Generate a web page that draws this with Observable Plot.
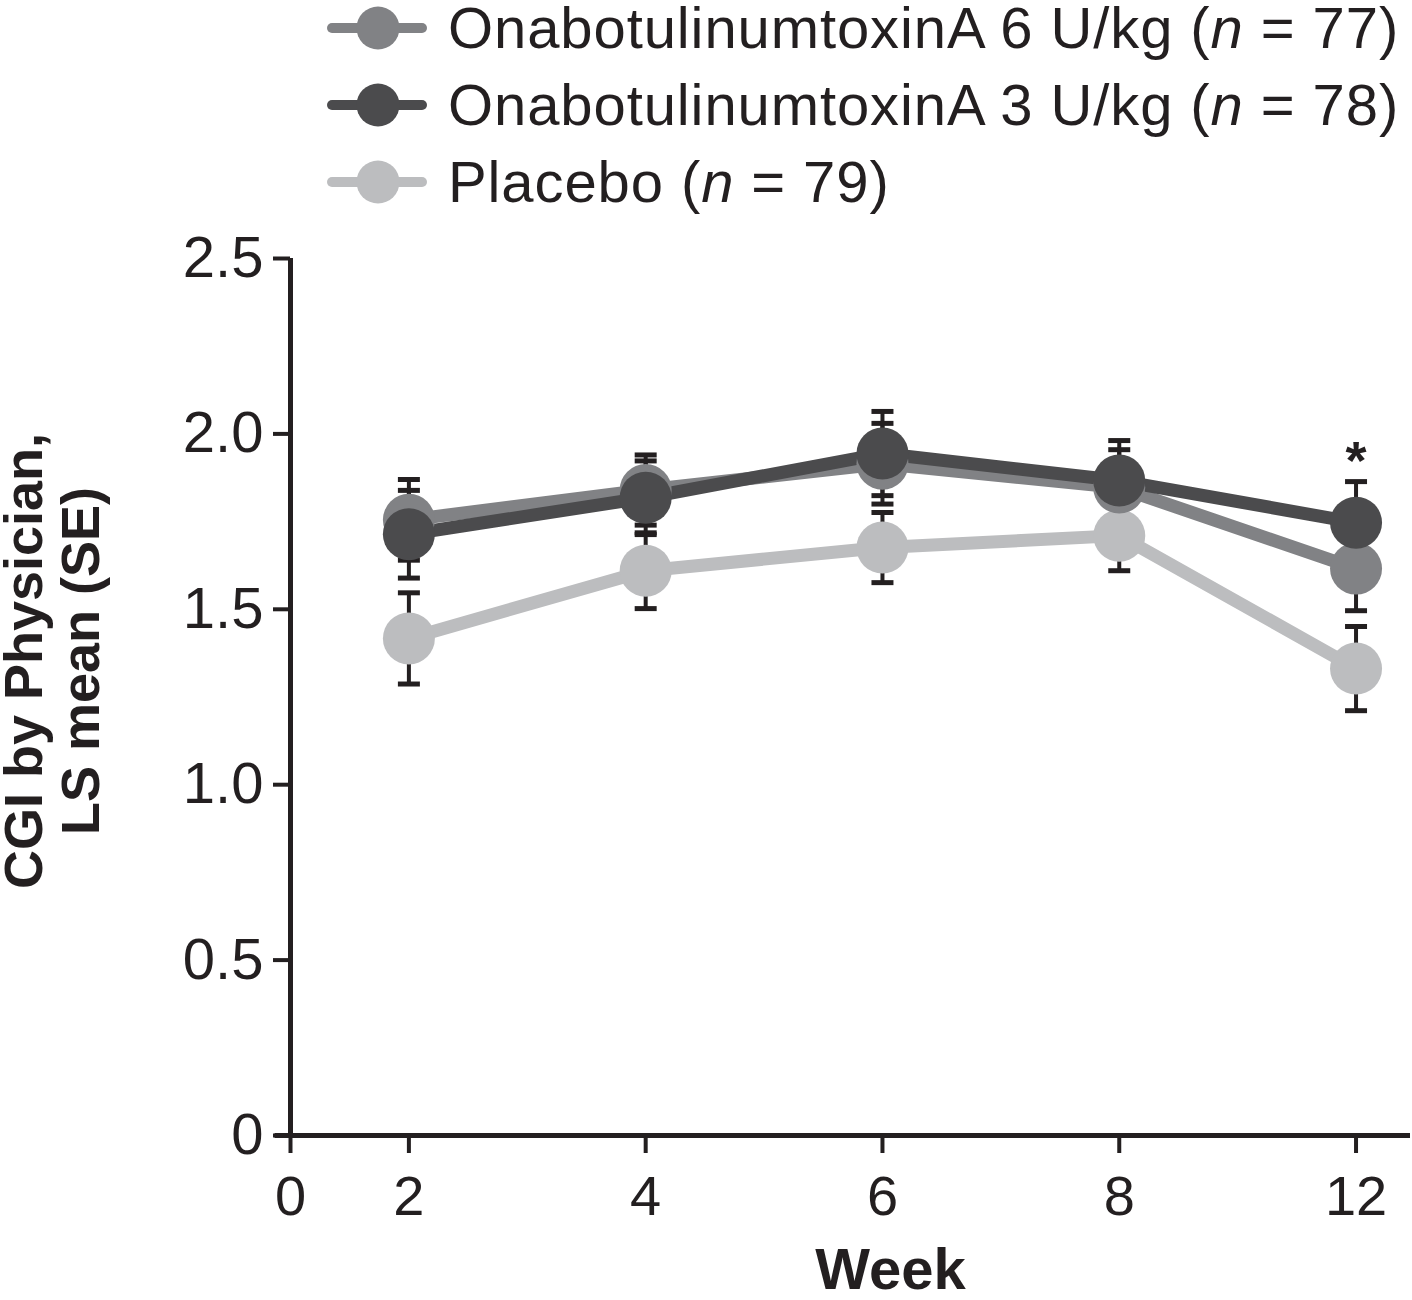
<!DOCTYPE html>
<html>
<head>
<meta charset="utf-8">
<script src="https://cdn.jsdelivr.net/npm/d3@7"></script>
<script src="https://cdn.jsdelivr.net/npm/@observablehq/plot@0.6"></script>
<style>
  html, body { margin: 0; padding: 0; background: #fff; }
  #wrap { width: 1412px; height: 1300px; position: relative; font-family: "Liberation Sans", Arial, sans-serif; color: #231f20; }
  #legend { position: relative; height: 220px; }
  .lrow { position: absolute; left: 327px; height: 56px; display: flex; align-items: center; white-space: nowrap; }
  .lrow span { font-size: 58px; line-height: 56px; margin-left: 21px; letter-spacing: 0.9px; }
</style>
</head>
<body>
<div id="wrap">
  <div id="legend"></div>
  <div id="chart"></div>
</div>
<script>
// ---- data ----
const weeks = [2, 4, 6, 8, 12];
const xTickLabels = ["0", "2", "4", "6", "8", "12"];
const yTicks = [0, 0.5, 1.0, 1.5, 2.0, 2.5];

const seriesNames = ["OnabotulinumtoxinA 6 U/kg", "OnabotulinumtoxinA 3 U/kg", "Placebo"];
const seriesN = [77, 78, 79];
const seriesColors = ["#818285", "#4b4b4d", "#bcbdbf"];

const dose6Mean = [1.755, 1.840, 1.915, 1.847, 1.616];
const dose6SE   = [0.115, 0.100, 0.115, 0.108, 0.120];
const dose3Mean = [1.714, 1.818, 1.944, 1.867, 1.747];
const dose3SE   = [0.125, 0.105, 0.120, 0.114, 0.117];
const placeboMean = [1.417, 1.610, 1.676, 1.710, 1.331];
const placeboSE   = [0.130, 0.108, 0.100, 0.100, 0.120];

const significant = [{series: "OnabotulinumtoxinA 3 U/kg", week: 12, label: "*"}];

// ---- build table ----
const seriesList = [
  {name: seriesNames[2], mean: placeboMean, se: placeboSE},
  {name: seriesNames[0], mean: dose6Mean, se: dose6SE},
  {name: seriesNames[1], mean: dose3Mean, se: dose3SE}
];
const rows = seriesList.flatMap(s => weeks.map((w, i) => ({
  series: s.name, week: w, slot: i + 1, value: s.mean[i], se: s.se[i]
})));
const slotOf = w => weeks.indexOf(w) + 1;
const xDomain = [0.5, 5.23];
const xTickSlots = [0.5, ...weeks.map(slotOf)];

// ---- legend ----
const legend = document.getElementById("legend");
seriesNames.forEach((name, i) => {
  const row = document.createElement("div");
  row.className = "lrow";
  row.style.top = (28 + 77 * i - 28) + "px";
  row.innerHTML =
    `<svg width="100" height="50" style="overflow:visible">
       <line x1="5" x2="95" y1="25" y2="25" stroke="${seriesColors[i]}" stroke-width="10" stroke-linecap="round"/>
       <circle cx="51" cy="25" r="21.5" fill="${seriesColors[i]}"/>
     </svg>
     <span>${name} (<i>n</i> = ${seriesN[i]})</span>`;
  legend.appendChild(row);
});

// ---- chart ----
const capSymbol = {
  draw(ctx, size) {
    const w = Math.sqrt(size / Math.PI);
    ctx.moveTo(-w, 0);
    ctx.lineTo(w, 0);
  }
};
const ink = "#231f20";

const chart = Plot.plot({
  width: 1412,
  height: 1080,
  marginLeft: 290,
  marginRight: 2,
  marginTop: 38,
  marginBottom: 165,
  style: {fontFamily: "'Liberation Sans', Arial, sans-serif", color: ink, background: "#fff", overflow: "visible"},
  x: {domain: xDomain},
  y: {domain: [0, 2.5]},
  color: {domain: seriesNames, range: seriesColors},
  marks: [
    Plot.axisX({ticks: xTickSlots, tickFormat: (d, i) => xTickLabels[i], tickSize: 18, tickPadding: 22,
      fontSize: 56, strokeWidth: 4, label: null}),
    Plot.axisY({ticks: yTicks, tickFormat: d => d === 0 ? "0" : d.toFixed(1), tickSize: 17, tickPadding: 10,
      fontSize: 58, strokeWidth: 4, label: null}),
    Plot.ruleY([0], {x1: xDomain[0] - 0.065, x2: xDomain[1], stroke: ink, strokeWidth: 5}),
    Plot.ruleX([xDomain[0]], {y1: 0, y2: 2.5, stroke: ink, strokeWidth: 5}),
    // error bars
    Plot.ruleX(rows, {x: "slot", y1: d => d.value - d.se, y2: d => d.value + d.se, stroke: ink, strokeWidth: 4}),
    Plot.dot(rows, {x: "slot", y: d => d.value + d.se, symbol: capSymbol, r: 11, stroke: ink, strokeWidth: 5, fill: "none"}),
    Plot.dot(rows, {x: "slot", y: d => d.value - d.se, symbol: capSymbol, r: 11, stroke: ink, strokeWidth: 5, fill: "none"}),
    // lines & points
    Plot.line(rows, {x: "slot", y: "value", z: "series", stroke: "series", strokeWidth: 13, strokeLinejoin: "round"}),
    Plot.dot(rows, {x: "slot", y: "value", fill: "series", r: 26, stroke: null}),
    // significance
    Plot.text(significant, {
      x: d => slotOf(d.week),
      y: d => { const r = rows.find(q => q.series === d.series && q.week === d.week); return r.value + r.se; },
      text: "label", dy: -20, fontSize: 54, fontWeight: "bold", fill: ink
    }),
    // axis titles
    Plot.text(["CGI by Physician,\nLS mean (SE)"], {frameAnchor: "left", rotate: -90, textAnchor: "middle",
      dx: -238, dy: -36, fontSize: 54, fontWeight: "bold", lineHeight: 1.04, fill: ink}),
    Plot.text(["Week"], {frameAnchor: "bottom", lineAnchor: "middle", dx: 40, dy: 135, fontSize: 58, fontWeight: "bold", fill: ink})
  ]
});
document.getElementById("chart").appendChild(chart);
</script>
</body>
</html>
